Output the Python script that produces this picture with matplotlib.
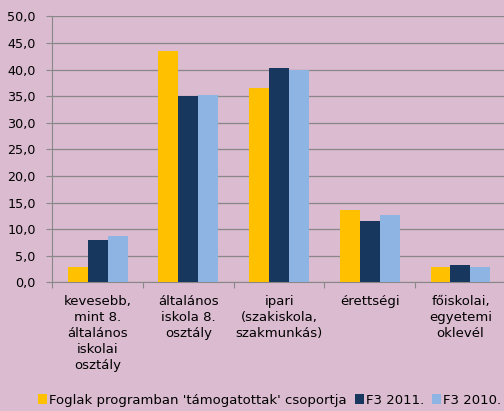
import numpy as np
import matplotlib
matplotlib.use('Agg')
import matplotlib.pyplot as plt
from matplotlib.ticker import MultipleLocator, FuncFormatter

# data
categories = ['kevesebb,\nmint 8.\náltalános\niskolai\nosztály',
              'általános\niskola 8.\nosztály',
              'ipari\n(szakiskola,\nszakmunkás)',
              'érettségi',
              'főiskolai,\negyetemi\noklevél']
foglak = [3.0, 43.5, 36.6, 13.7, 2.9]
f3_2011 = [7.9, 35.0, 40.2, 11.6, 3.3]
f3_2010 = [8.8, 35.3, 39.9, 12.6, 2.9]
series_names = ["Foglak programban 'támogatottak' csoportja", 'F3 2011.', 'F3 2010.']

bg = '#DBBBD0'
colors = ['#FFC000', '#17375E', '#8DB4E2']

fig = plt.figure(figsize=(5.04, 4.11), dpi=100, facecolor=bg)
ax = fig.add_axes([0.1038, 0.3127, 0.8998, 0.6476], facecolor=bg)

x = np.arange(len(categories))
w = 0.22
for i, vals in enumerate([foglak, f3_2011, f3_2010]):
    ax.bar(x + (i - 1) * w, vals, width=w, color=colors[i], label=series_names[i], zorder=3)

ax.set_xlim(-0.5, len(categories) - 0.5)
ax.set_ylim(0, 50)
ax.yaxis.set_major_locator(MultipleLocator(5))
ax.yaxis.set_major_formatter(FuncFormatter(lambda v, p: f'{v:.1f}'.replace('.', ',')))
ax.grid(axis='y', color='#888888', linewidth=0.9, zorder=0)

for s in ['top', 'right']:
    ax.spines[s].set_visible(False)
ax.spines['left'].set_color('#888888')
ax.spines['bottom'].set_color('#888888')

ax.set_xticks(np.arange(len(categories) + 1) - 0.5, minor=False)
ax.set_xticklabels([])
ax.tick_params(axis='x', length=4, color='#888888', direction='out')
ax.set_xticks(x, minor=True)
ax.set_xticklabels(categories, minor=True, fontsize=9.5, linespacing=1.3)
ax.tick_params(axis='x', which='minor', length=0, pad=9)
ax.tick_params(axis='y', length=4, color='#888888', labelsize=9.2, pad=8)

fig.legend(loc='lower center', bbox_to_anchor=(0.535, -0.018), ncol=3, frameon=False,
           fontsize=9.5, handlelength=0.7, handleheight=0.7, handletextpad=0.15,
           columnspacing=0.6)

fig.savefig('out.png', dpi=100, facecolor=bg)
